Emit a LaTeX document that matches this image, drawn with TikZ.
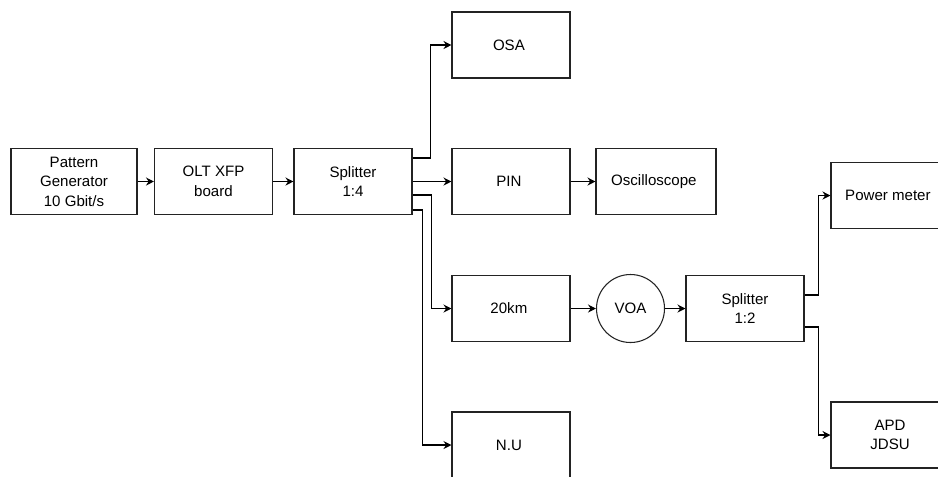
\documentclass[tikz,border=0pt]{standalone}
\usepackage{fontspec}
\setmainfont{Liberation Sans}
\usepackage{tikz}
\usetikzlibrary{calc, arrows.meta}
\definecolor{edge}{RGB}{35, 35, 35}
\newcommand*{\w}{88.5pt}

\begin{document}
\begin{tikzpicture}[
   x=0.75pt, y=-0.75pt,
   blockrec/.style={rectangle, draw=edge, fill=white, line width=0.8, text=black,
                    align=center, inner sep=2, minimum height=49.5pt, minimum width=\w,
                    font=\fontsize{11.3}{14.6}\selectfont},
   blockcirc/.style={circle, draw=edge, fill=white, line width=0.8, text=black,
                     inner sep=1, minimum size=51pt,
                     font=\fontsize{11.3}{14.6}\selectfont},
   link/.style={->, >={Stealth[length=6pt, width=6pt, inset=2pt]}, color=black, line width=0.8}
  ]

  % Frame
  \useasboundingbox (0, 0) rectangle (938, 476);
  \clip (0, 0) rectangle (938, 476);

  \node (pg) at (74, 181.5) [blockrec, minimum width=94.5pt] { Pattern\\Generator\\10 Gbit/s };

  \node (olt) at (213.5, 181.5) [blockrec] { OLT XFP\\board };

  \node (spl) at (353, 181.5) [blockrec] { Splitter\\1:4 };

  \node (osa) at (511, 45) [blockrec] { OSA };
  \node (pin) at (511, 181.5) [blockrec] { PIN };
  \node (osc) at (656, 181.5) [blockrec, minimum width=90pt] { Oscilloscope };
  \node (km) at (511, 308.5) [blockrec] { 20km };
  \node (nu) at (511, 445) [blockrec] { N.U };

  \node (voa) at (630.5, 308.5) [blockcirc] { VOA };

  \node (spltwo) at (745, 308.5) [blockrec] { Splitter\\1:2 };

  \node (pm) at (890, 195.5) [blockrec] { Power meter };
  \node (apd) at (890, 435) [blockrec] { APD\\JDSU };

  \foreach \B/\E in {pg/olt, olt/spl, spl/pin, pin/osc, km/voa, voa/spltwo} {
    \draw[link] (\B) -- (\E);
  }

  % Splitter outputs
  \draw[link] ($(spl.east)+(0,-23.5)$) -- ++(18, 0) |- (osa.west);
  \draw[link] ($(spl.east)+(0,13.5)$) -- ++(19, 0) |- (km.west);
  \draw[link] ($(spl.east)+(0,28.5)$) -- ++(10, 0) |- (nu.west);

  \draw[link] ($(spltwo.east)+(0,-13.5)$) -- ++(14, 0) |- (pm.west);
  \draw[link] ($(spltwo.east)+(0,18.5)$) -- ++(14, 0) |- (apd.west);

\end{tikzpicture}
\end{document}
